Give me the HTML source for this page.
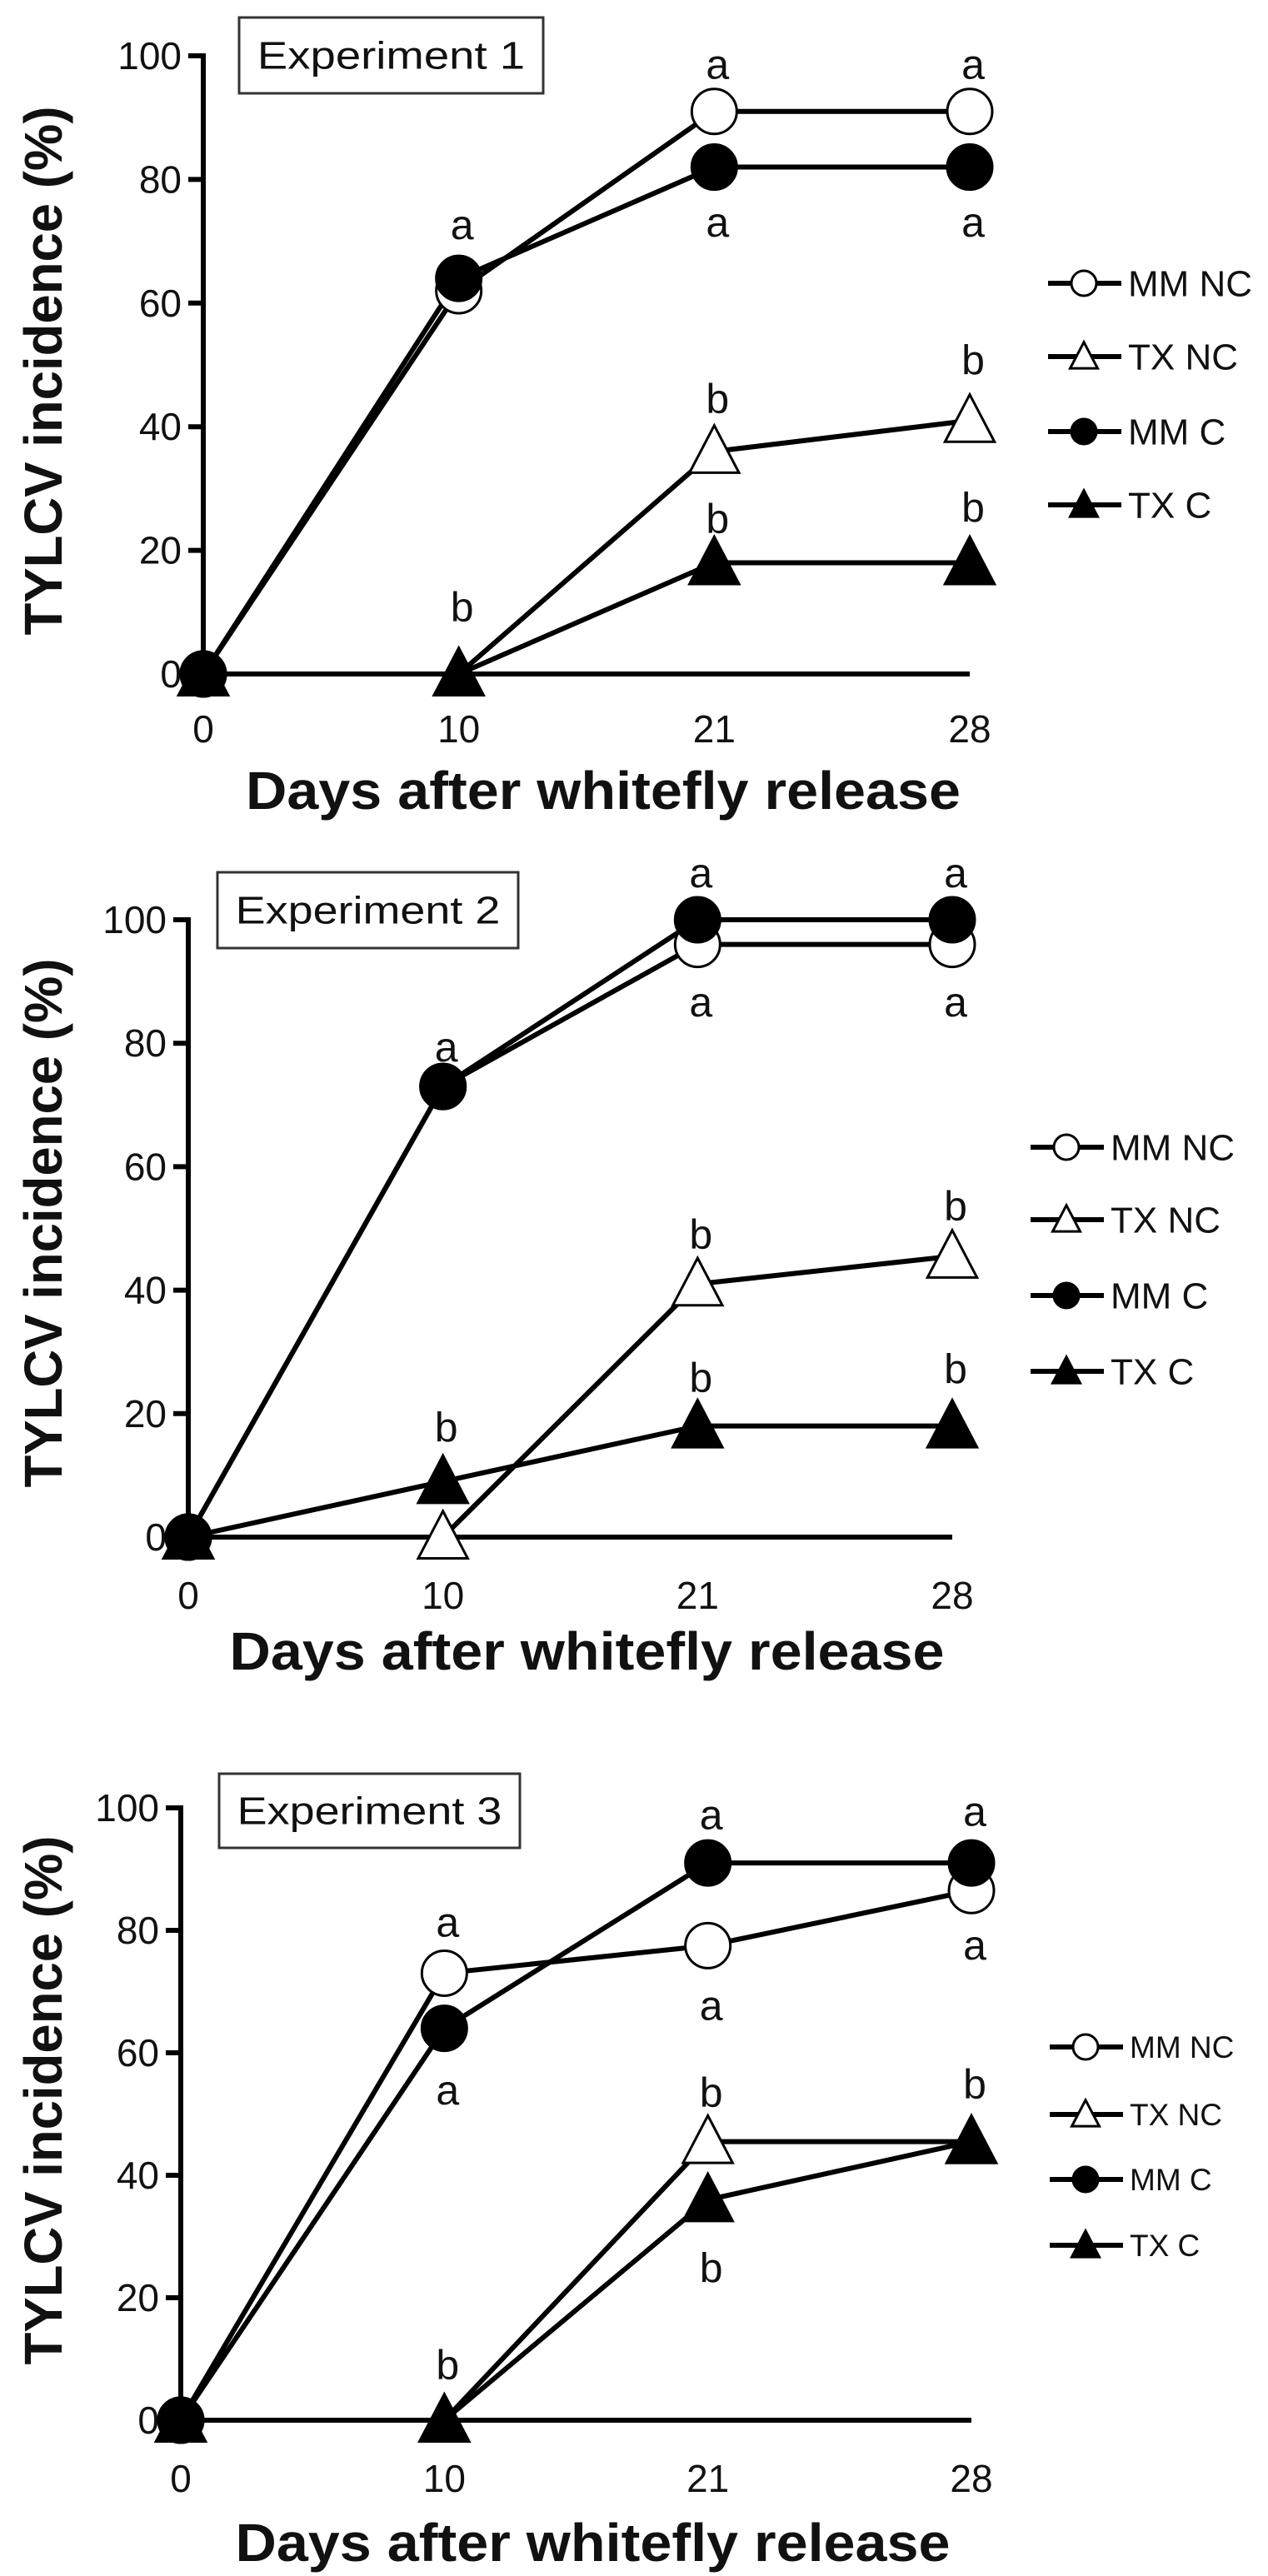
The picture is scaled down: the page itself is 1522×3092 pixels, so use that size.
<!DOCTYPE html>
<html><head><meta charset="utf-8">
<style>
html,body{margin:0;padding:0;background:#fff;}
svg{display:block;}
text{font-family:"Liberation Sans",sans-serif;fill:#111;}
</style></head>
<body>
<svg id="chart" width="1522" height="3092" viewBox="0 0 1522 3092" xmlns="http://www.w3.org/2000/svg"></svg>
<script>
// ---- data ----
const days = ["0","10","21","28"];
const yTicks = [0,20,40,60,80,100];
const seriesNames = ["MM NC","TX NC","MM C","TX C"];
// Experiment 1
const exp1MMNC = [0,62,91,91];
const exp1TXNC = [0,0,36,41];
const exp1MMC  = [0,64,82,82];
const exp1TXC  = [0,0,18,18];
const exp1Letters = [[1,72.8,"a"],[2,98.7,"a"],[3,98.7,"a"],[2,73.2,"a"],[3,73.2,"a"],[3,50.9,"b"],[2,44.6,"b"],[2,25.2,"b"],[3,27,"b"],[1,10.9,"b"]];
// Experiment 2
const exp2MMNC = [0,73,96,96];
const exp2TXNC = [0,0,41,45.5];
const exp2MMC  = [0,73,100,100];
const exp2TXC  = [0,9,18,18];
const exp2Letters = [[2,107.7,"a"],[3,107.7,"a"],[2,86.8,"a"],[3,86.8,"a"],[1,79.5,"a"],[3,53.7,"b"],[2,49.1,"b"],[2,25.9,"b"],[3,27.3,"b"],[1,17.9,"b"]];
// Experiment 3
const exp3MMNC = [0,73,77.5,86.5];
const exp3TXNC = [0,0,45.5,45.5];
const exp3MMC  = [0,64,91,91];
const exp3TXC  = [0,0,36,45.5];
const exp3Letters = [[1,81.4,"a"],[1,54,"a"],[2,99,"a"],[3,99.5,"a"],[2,67.8,"a"],[3,77.7,"a"],[2,53.6,"b"],[3,55,"b"],[2,25,"b"],[1,9.1,"b"]];

const NS="http://www.w3.org/2000/svg";
const svg=document.getElementById('chart');
function mk(tag,attrs,parent){const e=document.createElementNS(NS,tag);for(const k in attrs)e.setAttribute(k,attrs[k]);(parent||svg).appendChild(e);return e;}

function marker(g,type,cx,cy,r){
  let m;
  if(type==='circle'||type==='dot'){
    m=mk('circle',{cx:cx,cy:cy,r:r,fill:type==='dot'?'#000':'#fff',stroke:'#000','stroke-width':3},g);
  }else{
    const h=r*2.1,w=r*1.1;
    m=mk('polygon',{points:`${cx},${cy-h*0.55} ${cx+w},${cy+h*0.45} ${cx-w},${cy+h*0.45}`,fill:type==='tri'?'#000':'#fff',stroke:'#000','stroke-width':3,'stroke-linejoin':'miter'},g);
  }
  return m;
}

function panel(cfg){
  const g=mk('g',{});
  
  
  const xs=i=>cfg.xPos[0]+(cfg.xPos[1]-cfg.xPos[0])*i/(days.length-1);
  const ys=v=>cfg.y0-(cfg.y0-cfg.y100)*v/100;
  const ya=mk('line',{x1:cfg.xPos[0],y1:ys(100)-3,x2:cfg.xPos[0],y2:ys(0)+16,stroke:'#000','stroke-width':6},g);
  
  
  yTicks.forEach(t=>{
    const tk=mk('line',{x1:cfg.xPos[0]-18,y1:ys(t),x2:cfg.xPos[0],y2:ys(t),stroke:'#000','stroke-width':6},g);
    
    
    const tl=mk('text',{x:cfg.xPos[0]-26,y:ys(t)+16,'text-anchor':'end','font-size':46},g);
    tl.textContent=t;
    
    
  });
  const xa=mk('line',{x1:cfg.xPos[0],y1:ys(0),x2:xs(3),y2:ys(0),stroke:'#000','stroke-width':6},g);
  
  
  days.forEach((d,i)=>{
    const t=mk('text',{x:xs(i),y:cfg.tickY+16,'text-anchor':'middle','font-size':46},g);
    t.textContent=d;
    
    
  });
  const xt=mk('text',{x:(xs(0)+xs(3))/2+20,y:cfg.titleY+22,'text-anchor':'middle','font-size':64,'font-weight':'bold',textLength:858,lengthAdjust:'spacingAndGlyphs'},g);
  xt.textContent='Days after whitefly release';
  
  
  const yt=mk('text',{x:0,y:0,'text-anchor':'middle','font-size':64,'font-weight':'bold',textLength:635,lengthAdjust:'spacingAndGlyphs',transform:`translate(74,${cfg.yTitleY}) rotate(-90)`},g);
  yt.textContent='TYLCV incidence (%)';
  
  
  const bx=mk('rect',{x:cfg.box[0],y:cfg.box[1],width:cfg.box[2]-cfg.box[0],height:cfg.box[3]-cfg.box[1],fill:'#fff',stroke:'#333','stroke-width':3},g);
  
  
  const bt=mk('text',{x:(cfg.box[0]+cfg.box[2])/2,y:(cfg.box[1]+cfg.box[3])/2+16,'text-anchor':'middle','font-size':46,textLength:(cfg.box[2]-cfg.box[0])*0.88,lengthAdjust:'spacingAndGlyphs'},g);
  bt.textContent='Experiment '+cfg.id;
  
  
  const types=['circle','otri','dot','tri'];
  const order=[1,3,0,2];
  order.forEach(si=>{
    const vals=cfg.series[si];
    const pts=vals.map((v,i)=>xs(i)+','+ys(v)).join(' ');
    const pl=mk('polyline',{points:pts,fill:'none',stroke:'#000','stroke-width':6,'stroke-linejoin':'round'},g);
    
    
  });
  order.forEach(si=>{
    cfg.series[si].forEach((v,i)=>{
      const m=marker(g,types[si],xs(i),ys(v),27);
      
      
    });
  });
  cfg.letters.forEach(L=>{
    const t=mk('text',{x:xs(L[0])+4,y:ys(L[1])+18,'text-anchor':'middle','font-size':50},g);
    t.textContent=L[2];
    
    
  });
  seriesNames.forEach((n,si)=>{
    const ly=cfg.legY[si];
    const lg=mk('g',{},g);
    
    
    mk('line',{x1:cfg.legX,y1:ly,x2:cfg.legX+88,y2:ly,stroke:'#000','stroke-width':6},lg);
    marker(lg,types[si],cfg.legX+43,ly,15);
    const t=mk('text',{x:cfg.legX+96,y:ly+cfg.legFont*0.35,'font-size':cfg.legFont},lg);
    t.textContent=n;
  });
}

panel({id:1,xPos:[244,1164],y0:809,y100:67,tickY:875,titleY:949,yTitleY:445,box:[287,21,652,112],
  series:[exp1MMNC,exp1TXNC,exp1MMC,exp1TXC],letters:exp1Letters,legX:1258,legY:[340,428,518,606],legFont:44});
panel({id:2,xPos:[226,1143],y0:1845,y100:1104,tickY:1915,titleY:1982,yTitleY:1468,box:[261,1047,622,1138],
  series:[exp2MMNC,exp2TXNC,exp2MMC,exp2TXC],letters:exp2Letters,legX:1237,legY:[1377,1464,1555,1646],legFont:44});
panel({id:3,xPos:[217,1166],y0:2905,y100:2170,tickY:2975,titleY:3052,yTitleY:2521,box:[263,2129,624,2218],
  series:[exp3MMNC,exp3TXNC,exp3MMC,exp3TXC],letters:exp3Letters,legX:1260,legY:[2457,2538,2616,2695],legFont:37});
</script>
</body></html>
